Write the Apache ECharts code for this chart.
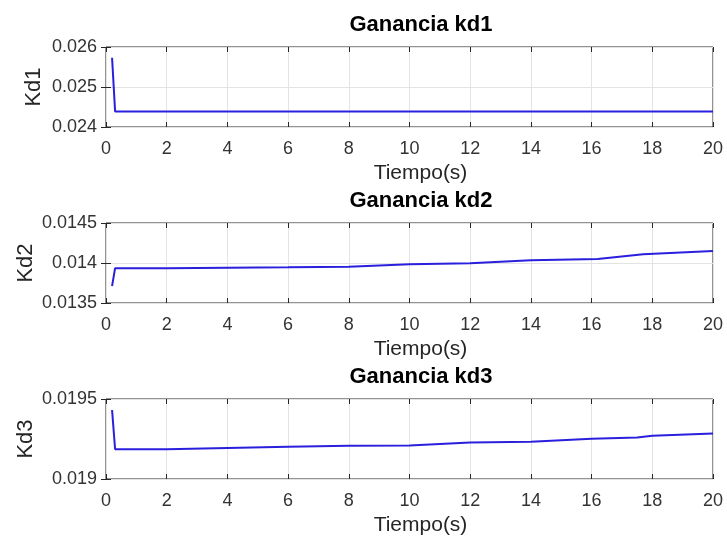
<!DOCTYPE html>
<html>
<head>
<meta charset="UTF-8">
<title>Ganancias kd</title>
<script src="https://cdn.jsdelivr.net/npm/echarts@6/dist/echarts.min.js"></script>
<style>
	html, body { margin:0; padding:0; background:#fff; }
	#main { width:727px; height:544px; }
</style>
</head>
<body>
	<div id="main"></div>

	<script type="text/javascript">
		// datos
		var t1 = [0.2, 0.3, 20];
		var kd1 = [0.02573, 0.02439, 0.02439];

		var t2 = [0.2, 0.3, 2, 4, 6, 8, 10, 12, 14, 16.2, 17.7, 20];
		var kd2 = [0.01371, 0.013935, 0.013935, 0.01394, 0.013946, 0.013954, 0.013984, 0.013996, 0.014035, 0.01405, 0.01411, 0.01415];

		var t3 = [0.2, 0.3, 2, 4, 6, 8, 10, 12, 14, 16, 17.5, 18, 20];
		var kd3 = [0.019431, 0.019186, 0.019186, 0.019194, 0.019202, 0.019208, 0.01921, 0.019228, 0.019233, 0.019252, 0.01926, 0.01927, 0.019285];

		var titles = ['Ganancia kd1', 'Ganancia kd2', 'Ganancia kd3'];
		var yNames = ['Kd1', 'Kd2', 'Kd3'];
		var yMin = [0.024, 0.0135, 0.019];
		var yMax = [0.026, 0.0145, 0.0195];
		var yStep = [0.001, 0.0005, 0.0005];
		var xTicks = [0, 2, 4, 6, 8, 10, 12, 14, 16, 18, 20];

		var font = 'Liberation Sans, Arial, sans-serif';
		var tops = [47, 223, 399];
		var nameGaps = [61, 69, 69];

		function pairs(t, v){
			var out = [];
			for(var i=0; i<t.length; i++){
				out.push([t[i], v[i]]);
			}
			return out;
		}

		function fmt(v){
			return String(parseFloat(v.toPrecision(6)));
		}

		function drawChart(){
			var myChart = echarts.init(document.getElementById('main'));
			var series_data = [pairs(t1, kd1), pairs(t2, kd2), pairs(t3, kd3)];

			var grid = [], title = [], xAxis = [], yAxis = [], series = [];
			for(var i=0; i<3; i++){
				grid.push({
					left: 106, width: 607, top: tops[i], height: 80,
					show: true, borderColor: '#262626', borderWidth: 1, backgroundColor: '#fff'
				});
				title.push({
					text: titles[i], left: 416, textAlign: 'center', top: tops[i] - 38,
					textStyle: { fontFamily: font, fontSize: 22, fontWeight: 'bold', color: '#000' }
				});
				// eje inferior
				xAxis.push({
					type: 'value', gridIndex: i, min: xTicks[0], max: xTicks[xTicks.length-1], interval: 2,
					name: 'Tiempo(s)', nameLocation: 'middle', nameGap: 36, nameMoveOverlap: false,
					nameTextStyle: { fontFamily: font, fontSize: 21, color: '#262626', padding: [0, 0, 0, 22] },
					axisLine: { show: false },
					axisTick: { inside: true, length: 5, lineStyle: { color: '#262626' } },
					axisLabel: { fontFamily: font, fontSize: 18, color: '#333', margin: 13 },
					splitLine: { show: true, lineStyle: { color: '#e3e3e3', width: 1 } }
				});
				// eje superior, solo marcas
				xAxis.push({
					type: 'value', gridIndex: i, position: 'top', min: 0, max: 20, interval: 2,
					axisLine: { show: false },
					axisTick: { inside: true, length: 5, lineStyle: { color: '#262626' } },
					axisLabel: { show: false },
					splitLine: { show: false }
				});
				yAxis.push({
					type: 'value', gridIndex: i, min: yMin[i], max: yMax[i], interval: yStep[i],
					name: yNames[i], nameLocation: 'middle', nameGap: nameGaps[i], nameRotate: 90,
					nameMoveOverlap: false,
					nameTextStyle: { fontFamily: font, fontSize: 22, color: '#262626' },
					axisLine: { show: false },
					axisTick: { inside: true, length: 5, lineStyle: { color: '#262626' } },
					axisLabel: { fontFamily: font, fontSize: 18, color: '#333', margin: 9, formatter: fmt },
					splitLine: { show: true, lineStyle: { color: '#e3e3e3', width: 1 } }
				});
				yAxis.push({
					type: 'value', gridIndex: i, position: 'right', min: yMin[i], max: yMax[i], interval: yStep[i],
					axisLine: { show: false },
					axisTick: { inside: true, length: 5, lineStyle: { color: '#262626' } },
					axisLabel: { show: false },
					splitLine: { show: false }
				});
				series.push({
					type: 'line', xAxisIndex: i*2, yAxisIndex: i*2,
					data: series_data[i], showSymbol: false, animation: false,
					lineStyle: { color: '#2a1fdc', width: 2 }
				});
			}

			var option = {
				backgroundColor: '#fff',
				animation: false,
				title: title,
				grid: grid,
				xAxis: xAxis,
				yAxis: yAxis,
				series: series
			};

			myChart.setOption(option);
		}

		window.onload = drawChart;
	</script>
</body>
</html>
